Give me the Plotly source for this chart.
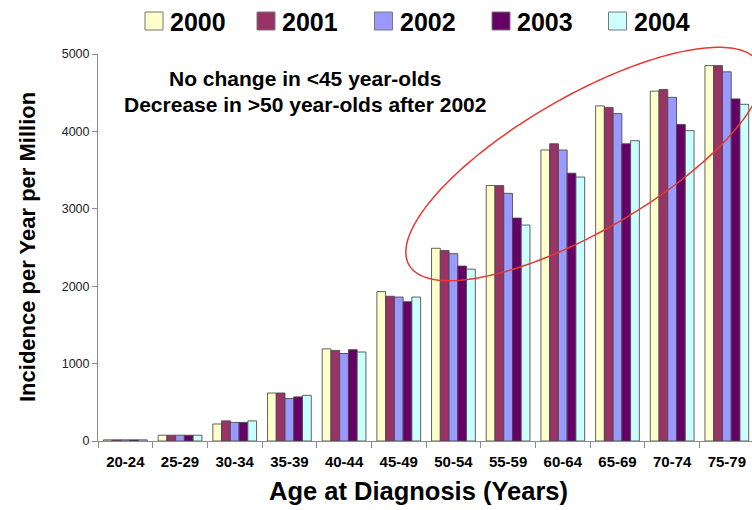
import numpy as np
import plotly.graph_objects as go

# Age groups and incidence per year per million, by diagnosis year
age_groups = ["20-24", "25-29", "30-34", "35-39", "40-44", "45-49",
              "50-54", "55-59", "60-64", "65-69", "70-74", "75-79"]
years = ["2000", "2001", "2002", "2003", "2004"]
inc_2000 = [15, 75, 220, 620, 1190, 1930, 2490, 3300, 3760, 4330, 4520, 4850]
inc_2001 = [15, 75, 260, 620, 1170, 1870, 2460, 3300, 3840, 4310, 4540, 4850]
inc_2002 = [15, 75, 240, 550, 1130, 1860, 2420, 3200, 3760, 4230, 4440, 4770]
inc_2003 = [15, 75, 240, 570, 1180, 1800, 2260, 2880, 3460, 3840, 4090, 4420]
inc_2004 = [15, 75, 260, 590, 1150, 1860, 2220, 2790, 3410, 3880, 4010, 4350]
y_ticks = [0, 1000, 2000, 3000, 4000, 5000]

series = [inc_2000, inc_2001, inc_2002, inc_2003, inc_2004]
colors = ["#FFFFCC", "#993366", "#9999FF", "#660066", "#CCFFFF"]

FONT = "Liberation Sans, Arial, sans-serif"
W, H = 752, 510
L, R, T, B = 98, 0, 54, 69
PW, PH = W - L - R, H - T - B


def px_x(px):
    return (px - L) / PW


def px_y(py):
    return (H - B - py) / PH


fig = go.Figure()
for name, vals, col in zip(years, series, colors):
    fig.add_trace(go.Bar(
        x=age_groups, y=vals, name=name,
        marker=dict(color=col, line=dict(color="rgba(70,70,70,0.85)", width=1)),
        showlegend=False,
    ))

shapes = []
annotations = []

# Legend row across the top
sq_centers = [154, 266, 383.5, 501, 617.5]
for cx, name, col in zip(sq_centers, years, colors):
    shapes.append(dict(type="rect", xref="paper", yref="paper",
                       x0=px_x(cx - 9), x1=px_x(cx + 9),
                       y0=px_y(30), y1=px_y(12),
                       fillcolor=col, line=dict(color="#777777", width=1)))
    annotations.append(dict(text=f"<b>{name}</b>", xref="paper", yref="paper",
                            x=px_x(cx + 14), y=px_y(21.5),
                            xanchor="left", yanchor="middle", showarrow=False,
                            font=dict(family=FONT, size=25, color="black")))

# Highlight ellipse around the older age groups
t = np.linspace(0, 2 * np.pi, 200)
ang = np.deg2rad(30)
ecx, ecy, ea, eb = 584, 164, 202, 67.5
ex = ecx + ea * np.cos(t) * np.cos(ang) + eb * np.sin(t) * np.sin(ang)
ey = ecy - ea * np.cos(t) * np.sin(ang) + eb * np.sin(t) * np.cos(ang)
path = "M " + " L ".join(f"{px_x(a):.5f},{px_y(b):.5f}" for a, b in zip(ex, ey)) + " Z"
shapes.append(dict(type="path", xref="paper", yref="paper", path=path,
                   line=dict(color="#E53935", width=1.5), fillcolor="rgba(0,0,0,0)"))

# Commentary text
annotations.append(dict(text="<b>No change in <45 year-olds</b>", xref="paper", yref="paper",
                        x=px_x(305), y=px_y(78), xanchor="center", yanchor="middle",
                        showarrow=False, font=dict(family=FONT, size=21, color="black")))
annotations.append(dict(text="<b>Decrease in >50 year-olds after 2002</b>", xref="paper", yref="paper",
                        x=px_x(305), y=px_y(104.5), xanchor="center", yanchor="middle",
                        showarrow=False, font=dict(family=FONT, size=21, color="black")))

# Axis titles
annotations.append(dict(text="<b>Incidence per Year per Million</b>", xref="paper", yref="paper",
                        x=px_x(28), y=px_y(247), xanchor="center", yanchor="middle",
                        textangle=-90, showarrow=False,
                        font=dict(family=FONT, size=22, color="black")))
annotations.append(dict(text="<b>Age at Diagnosis (Years)</b>", xref="paper", yref="paper",
                        x=px_x(418), y=px_y(491), xanchor="center", yanchor="middle",
                        showarrow=False, font=dict(family=FONT, size=25.5, color="black")))

fig.update_layout(
    width=W, height=H,
    margin=dict(l=L, r=R, t=T, b=B),
    paper_bgcolor="white", plot_bgcolor="white",
    barmode="group", bargap=0.2, bargroupgap=0,
    shapes=shapes, annotations=annotations,
    font=dict(family=FONT),
)
fig.update_xaxes(
    type="category", range=[-0.5, 11.46],
    showline=True, linecolor="#8c8c8c", linewidth=1,
    ticks="outside", tickson="boundaries", ticklen=6, tickcolor="#8c8c8c",
    ticklabelstandoff=7,
    showgrid=False, zeroline=False,
    tickfont=dict(family=FONT, size=15, color="black"),
    tickprefix="<b>", ticksuffix="</b>",
)
fig.update_yaxes(
    range=[0, 5000], tickvals=y_ticks,
    showline=True, linecolor="#8c8c8c", linewidth=1,
    ticks="outside", ticklen=5, tickcolor="#8c8c8c",
    showgrid=False, zeroline=False,
    tickfont=dict(family=FONT, size=12.5, color="#222222"),
)

fig.write_html("out.html")
